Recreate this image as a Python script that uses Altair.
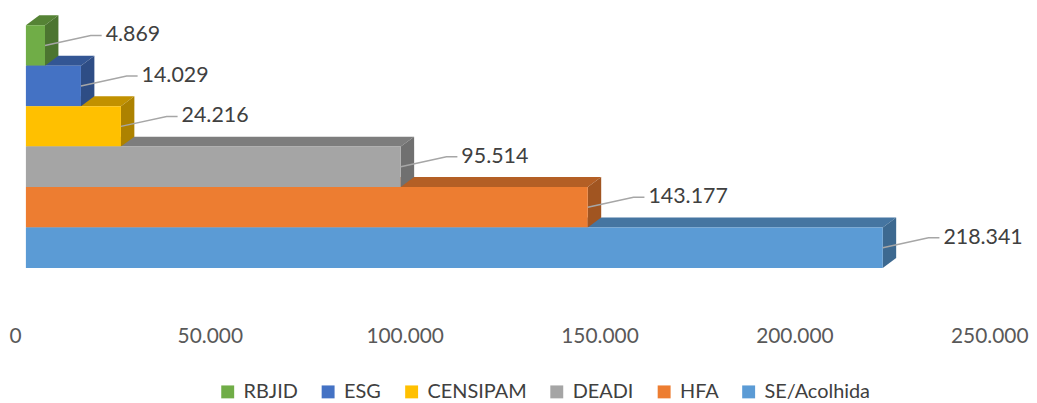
import altair as alt
import pandas as pd

categories = ["RBJID", "ESG", "CENSIPAM", "DEADI", "HFA", "SE/Acolhida"]
values = [4869, 14029, 24216, 95514, 143177, 218341]
colors = ["#70AD47", "#4472C4", "#FFC000", "#A5A5A5", "#ED7D31", "#5B9BD5"]
x_ticks = [0, 50000, 100000, 150000, 200000, 250000]

# layout constants (pixels)
W, H = 980, 295
XMAX = 250000
YMIN, YMAX = -0.25, 7.0
px_x = XMAX / W                 # data units per pixel (x)
px_y = (YMAX - YMIN) / H        # data units per pixel (y)
OFF = 11 * px_x                 # 3D back offset of bars vs axis
PERSP = 1.007                   # slight 3D perspective stretch of the bars
DX = 13.5 * px_x                # depth (x)
DY = 10 * px_y                  # depth (y)


def shade(hexc, f):
    r, g, b = (int(hexc[i:i + 2], 16) for i in (1, 3, 5))
    return "#%02x%02x%02x" % (int(r * f), int(g * f), int(b * f))


def fmt(v):
    return f"{v:,}".replace(",", ".")


front, top, side, lead, lab = [], [], [], [], []
for i, (c, v, col) in enumerate(zip(categories, values, colors)):
    x0, x1 = OFF, OFF + v * PERSP
    front.append(dict(cat=c, x0=x0, x1=x1, y0=i, y1=i + 1))
    tc, sc = shade(col, 0.76), shade(col, 0.68)
    top.append(dict(cat=c, y=i, xa=x0, xb=x1, col=tc))
    top.append(dict(cat=c, y=i - DY, xa=x0 + DX, xb=x1 + DX, col=tc))
    side.append(dict(cat=c, x=x1, ya=i + 1, yb=i, col=sc))
    side.append(dict(cat=c, x=x1 + DX, ya=i + 1 - DY, yb=i - DY, col=sc))
    ym = i + 0.5
    yl = ym - 10 * px_y
    lead.append(dict(cat=c, o=0, x=x1, y=ym))
    lead.append(dict(cat=c, o=1, x=x1 + 46 * px_x, y=yl))
    lead.append(dict(cat=c, o=2, x=x1 + 57 * px_x, y=yl))
    lab.append(dict(cat=c, x=x1 + 61 * px_x, y=yl, t=fmt(v)))

front, top, side, lead, lab = map(pd.DataFrame, (front, top, side, lead, lab))

xs = alt.Scale(domain=[0, XMAX], nice=False, zero=False)
ys = alt.Scale(domain=[YMIN, YMAX], reverse=True, nice=False, zero=False)

top_l = alt.Chart(top).mark_area(orient="horizontal").encode(
    y=alt.Y("y:Q", scale=ys, axis=None),
    x=alt.X("xa:Q", scale=xs, stack=None),
    x2="xb:Q",
    color=alt.Color("col:N", scale=None),
    detail="cat:N",
)

side_l = alt.Chart(side).mark_area(orient="vertical").encode(
    x=alt.X("x:Q", scale=xs),
    y=alt.Y("ya:Q", scale=ys, axis=None, stack=None),
    y2="yb:Q",
    color=alt.Color("col:N", scale=None),
    detail="cat:N",
)

front_l = alt.Chart(front).mark_rect().encode(
    x=alt.X(
        "x0:Q",
        scale=xs,
        title=None,
        axis=alt.Axis(
            values=x_ticks,
            labelExpr="datum.value == 0 ? '0' : format(datum.value / 1000, 'd') + '.000'",
            domain=False,
            ticks=False,
            grid=False,
            labelFont="Lato",
            labelFontSize=21,
            labelColor="#595959",
            labelPadding=17,
            labelFlush=False,
            labelOverlap=False,
        ),
    ),
    x2="x1:Q",
    y=alt.Y("y0:Q", scale=ys, axis=None),
    y2="y1:Q",
    color=alt.Color(
        "cat:N",
        scale=alt.Scale(domain=categories, range=colors),
        legend=alt.Legend(
            title=None,
            orient="none",
            direction="horizontal",
            legendX=204,
            legendY=369,
            padding=0,
            symbolType="square",
            symbolSize=169,
            symbolStrokeWidth=0,
            symbolOpacity=1,
            labelFont="Lato",
            labelFontSize=20,
            labelColor="#404040",
            labelOffset=6,
            columnPadding=20,
        ),
    ),
)

lead_l = alt.Chart(lead).mark_line(color="#A6A6A6", strokeWidth=1.5).encode(
    x=alt.X("x:Q", scale=xs),
    y=alt.Y("y:Q", scale=ys),
    order="o:Q",
    detail="cat:N",
)

lab_l = alt.Chart(lab).mark_text(
    align="left", baseline="middle", font="Lato", fontSize=21.5, color="#404040"
).encode(
    x=alt.X("x:Q", scale=xs),
    y=alt.Y("y:Q", scale=ys),
    text="t:N",
)

chart = alt.layer(top_l, side_l, front_l, lead_l, lab_l).properties(
    width=W,
    height=H,
    background="white",
    autosize=alt.AutoSizeParams(type="none"),
    padding={"left": 7, "top": 6, "right": 40, "bottom": 92},
).configure_view(strokeWidth=0, stroke=None)

chart.save("out.html", embed_options={"renderer": "svg", "actions": False})
